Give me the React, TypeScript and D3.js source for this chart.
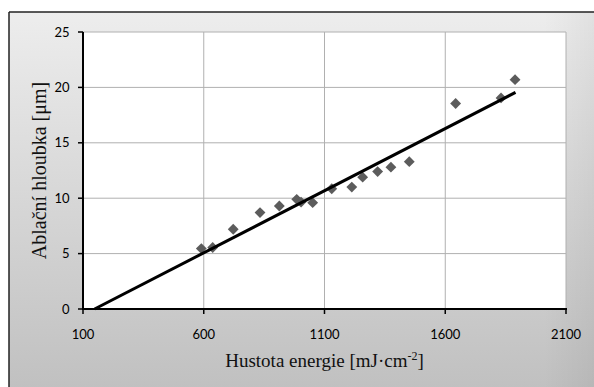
import React from "react";
import * as d3 from "d3";

const energy = [590, 637, 722, 833, 913, 985, 1003, 1051, 1130, 1213, 1258, 1320, 1375, 1451, 1643, 1831, 1889];
const depth = [5.45, 5.55, 7.2, 8.7, 9.3, 9.9, 9.65, 9.6, 10.85, 11.0, 11.9, 12.4, 12.8, 13.3, 18.55, 19.05, 20.7];
const trendX = [148, 1891];
const trendY = [0, 19.55];
const xTicks = [100, 600, 1100, 1600, 2100];
const yTicks = [0, 5, 10, 15, 20, 25];

const W = 594;
const H = 387;
const plot = { left: 83, right: 566, top: 32, bottom: 309 };

export default function App() {
  const x = d3.scaleLinear().domain([100, 2100]).range([plot.left, plot.right]);
  const y = d3.scaleLinear().domain([0, 25]).range([plot.bottom, plot.top]);
  const diamond = d3.symbol().type(d3.symbolDiamond2).size(75)();
  const trend = d3
    .line<number>()
    .x((d) => x(d))
    .y((_, i) => y(trendY[i]))(trendX);

  return (
    <svg
      width={W}
      height={H}
      style={{ position: "fixed", left: 0, top: 0, background: "#fff" }}
    >
      <defs>
        <linearGradient id="bg" x1="0" y1="0" x2="0" y2="1">
          <stop offset="0%" stopColor="#ededed" />
          <stop offset="100%" stopColor="#bfbfbf" />
        </linearGradient>
        <linearGradient id="bgr" x1="0" y1="0" x2="1" y2="0">
          <stop offset="0%" stopColor="#000" stopOpacity={0} />
          <stop offset="90%" stopColor="#000" stopOpacity={0} />
          <stop offset="100%" stopColor="#000" stopOpacity={0.06} />
        </linearGradient>
        <filter id="blur" x="-50%" y="-50%" width="200%" height="200%">
          <feGaussianBlur stdDeviation="0.5" />
        </filter>
      </defs>
      <rect x={9} y={12} width={W} height={H} fill="url(#bg)" />
      <rect x={9} y={12} width={W} height={H} fill="url(#bgr)" />
      <line x1={9} y1={12} x2={W} y2={12} stroke="#222" strokeWidth={1.5} />
      <line x1={9} y1={12} x2={9} y2={H} stroke="#222" strokeWidth={1.5} />

      <rect
        x={plot.left}
        y={plot.top}
        width={plot.right - plot.left}
        height={plot.bottom - plot.top}
        fill="#fff"
      />
      {yTicks.slice(1).map((t) => (
        <line key={"gy" + t} x1={plot.left} x2={plot.right} y1={y(t)} y2={y(t)} stroke="#b0b0b0" strokeWidth={1} />
      ))}
      {xTicks.slice(1).map((t) => (
        <line key={"gx" + t} x1={x(t)} x2={x(t)} y1={plot.top} y2={plot.bottom} stroke="#b0b0b0" strokeWidth={1} />
      ))}

      {energy.map((e, i) => (
        <path
          key={"p" + i}
          d={diamond}
          transform={`translate(${x(e)},${y(depth[i])})`}
          fill="#5c5c5c"
          filter="url(#blur)"
        />
      ))}
      <path d={trend || ""} stroke="#000" strokeWidth={3} fill="none" />

      <line x1={plot.left} x2={plot.left} y1={plot.top} y2={plot.bottom + 1} stroke="#000" strokeWidth={2} />
      <line x1={plot.left - 1} x2={plot.right + 1} y1={plot.bottom} y2={plot.bottom} stroke="#000" strokeWidth={2} />
      {yTicks.map((t) => (
        <g key={"ty" + t}>
          <line x1={plot.left - 5} x2={plot.left} y1={y(t)} y2={y(t)} stroke="#000" strokeWidth={1.5} />
          <text
            x={69.5}
            y={y(t)}
            dy="0.36em"
            textAnchor="end"
            fontFamily="Lato, 'Open Sans', sans-serif"
            fontSize={13}
            fill="#000"
          >
            {t}
          </text>
        </g>
      ))}
      {xTicks.map((t) => (
        <g key={"tx" + t}>
          <line x1={x(t)} x2={x(t)} y1={plot.bottom} y2={plot.bottom + 5} stroke="#000" strokeWidth={1.5} />
          <text
            x={x(t)}
            y={339}
            textAnchor="middle"
            fontFamily="Lato, 'Open Sans', sans-serif"
            fontSize={13}
            fill="#000"
          >
            {t}
          </text>
        </g>
      ))}

      <text
        x={(plot.left + plot.right) / 2}
        y={366.5}
        textAnchor="middle"
        fontFamily="'Liberation Serif', 'Times New Roman', serif"
        fontSize={19}
        fill="#111"
      >
        Hustota energie [mJ·cm
        <tspan dy={-7} fontSize={12}>-2</tspan>
        <tspan dy={7}>]</tspan>
      </text>
      <text
        transform={`translate(46,${(plot.top + plot.bottom) / 2}) rotate(-90)`}
        textAnchor="middle"
        fontFamily="'Liberation Serif', 'Times New Roman', serif"
        fontSize={20}
        fill="#111"
      >
        Ablační hloubka [μm]
      </text>
    </svg>
  );
}
